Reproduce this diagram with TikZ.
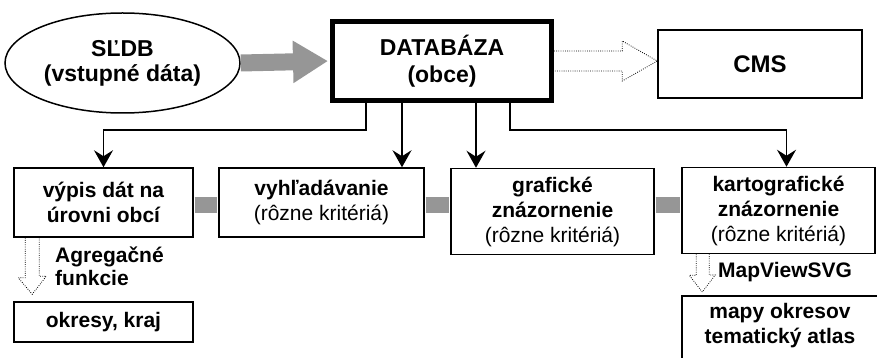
\documentclass[tikz,border=0pt]{standalone}
\usepackage{fontspec}
\setmainfont{Liberation Sans}
\usepackage{tikz}
\usetikzlibrary{arrows.meta,shapes.geometric}
\definecolor{barGray}{HTML}{969696}

\begin{document}
\begin{tikzpicture}[x=1pt,y=-1pt,
  box/.style={draw,line width=1.5pt,align=center,inner sep=0pt,
    font=\fontsize{21}{25}\selectfont\bfseries},
  headbox/.style={box,font=\fontsize{23}{26.5}\selectfont\bfseries},
  conn/.style={line width=1.5pt,-{Stealth[length=17pt,width=19pt,inset=6pt]}},
  hollow/.style={line width=0.8pt,dash pattern=on 0.8pt off 1.4pt},
  linkbar/.style={line width=16pt,barGray,shorten <=0.8pt,shorten >=0.8pt}]
  \useasboundingbox (0,0) rectangle (877,358);
  \clip (0,0) rectangle (877,358);

  \node[headbox,ellipse,minimum width=235,minimum height=100,
    font=\fontsize{23}{25}\selectfont\bfseries] (sldb) at (122.5,63) {SĽDB\\(vstupné dáta)};
  \node[headbox,line width=5pt,minimum width=219,minimum height=79] (db) at (442,61) {DATABÁZA\\(obce)};
  \node[headbox,minimum width=204,minimum height=68,
    font=\fontsize{24}{28}\selectfont\bfseries] (cms) at (760,64) {CMS};

  \node[box,minimum width=179,minimum height=69] (vypis) at (103.5,202.5) {výpis dát na\\úrovni obcí};
  \node[box,minimum width=205,minimum height=69] (vyhl) at (321.5,202.5) {vyhľadávanie\\{\mdseries(rôzne kritériá)}};
  \node[box,minimum width=203,minimum height=86] (graf) at (552.5,211.5) {grafické\\znázornenie\\{\mdseries(rôzne kritériá)}};
  \node[box,minimum width=193,minimum height=86] (karto) at (778.5,210.5) {kartografické\\znázornenie\\{\mdseries(rôzne kritériá)}};

  \node[box,minimum width=179,minimum height=40] (okresy) at (103.5,322) {okresy, kraj};
  \node[box,anchor=north,minimum width=196,minimum height=80,
    label={[anchor=north,align=center,inner sep=8pt,font=\fontsize{21}{25}\selectfont\bfseries]north:mapy okresov\\tematický atlas}] (mapy) at (780,295) {};

  \node[anchor=west,align=left,inner sep=0pt,font=\fontsize{21}{23.5}\selectfont\bfseries] (agreg) at (55,266.5) {Agregačné\\funkcie};
  \node[anchor=west,inner sep=0pt,font=\fontsize{21}{25}\selectfont\bfseries] (mapview) at (718,272) {MapViewSVG};

  \draw[line width=17pt,barGray,shorten >=2pt,-{Triangle[length=35pt,width=40pt]}] (sldb.east) -- (db.west);
  \draw[hollow] ([yshift=10pt]db.east) -- ([xshift=-35pt,yshift=10pt]cms.west |- db.east) -- ++(0,-10)
    -- (cms.west |- db.east) -- ++(-35,20) -- ++(0,-10) -- ([yshift=-10pt]db.east);

  \draw[conn] ([xshift=36pt]db.south west) -- ++(0,27) -| (vypis.north);
  \draw[conn] ([xshift=72pt]db.south west) -- ([xshift=72pt]db.south west |- vyhl.north);
  \draw[conn] ([xshift=146pt]db.south west) -- ([xshift=146pt]db.south west |- graf.north);
  \draw[conn] ([xshift=180pt]db.south west) -- ++(0,27) -| ([xshift=8pt]karto.north);

  \coordinate (barline) at (0,205);
  \draw[linkbar] (vypis.east |- barline) -- (vyhl.west |- barline);
  \draw[linkbar] (vyhl.east |- barline) -- (graf.west |- barline);
  \draw[linkbar] (graf.east |- barline) -- (karto.west |- barline);

  \draw[hollow] ([xshift=12pt]vypis.south west) -- ++(0,40) -- ++(-7,0)
    -- ([xshift=19pt,yshift=7pt]okresy.north west) -- ++(14,-18) -- ++(-7,0) -- ([xshift=26pt]vypis.south west);
  \draw[hollow] ([xshift=15pt]karto.south west) -- ++(0,21) -- ++(-7,0)
    -- ([xshift=21pt,yshift=3pt]mapy.north west) -- ++(13,-17) -- ++(-6,0) -- ([xshift=28pt]karto.south west);
\end{tikzpicture}
\end{document}
